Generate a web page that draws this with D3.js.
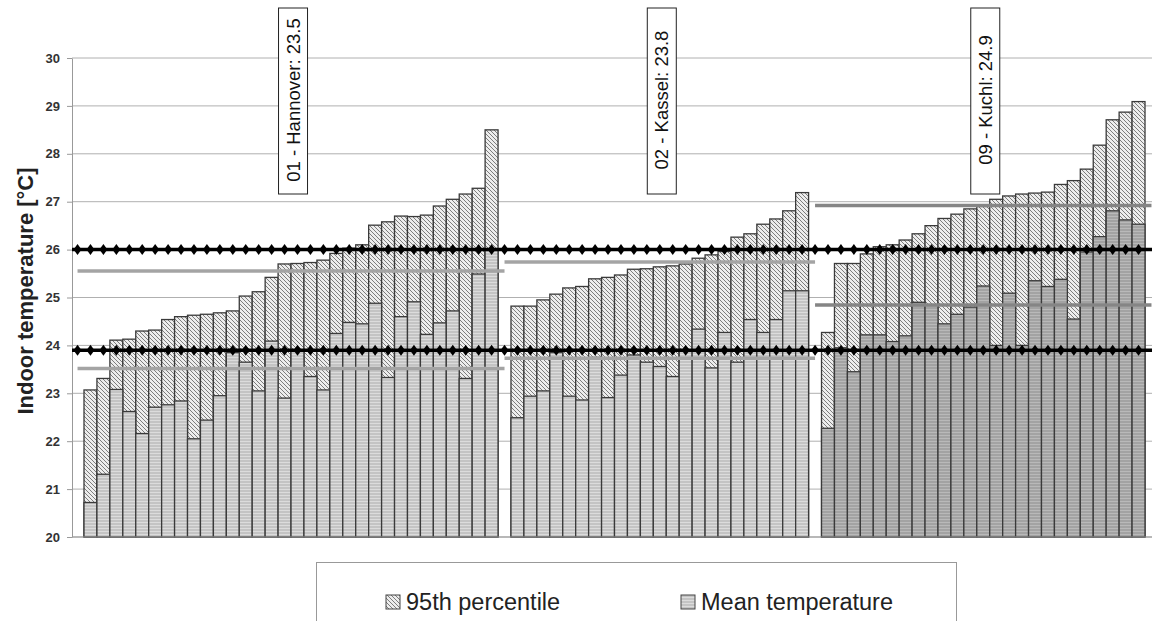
<!DOCTYPE html>
<html>
<head>
<meta charset="utf-8">
<script src="https://cdn.jsdelivr.net/npm/d3@7"></script>
<style>
body { margin: 0; background: #fff; }
svg { display: block; font-family: Arial, "Liberation Sans", sans-serif; }
</style>
</head>
<body>
<div id="chart"></div>
<script>
// Values (one bar per room, sorted by 95th percentile)
let groupLabels = ["01 - Hannover: 23.5", "02 - Kassel: 23.8", "09 - Kuchl: 24.9"];

let hannoverP95 = [23.07, 23.31, 24.11, 24.13, 24.30, 24.32, 24.54, 24.60, 24.63, 24.65, 24.68, 24.72, 25.03, 25.12, 25.42, 25.70,
    25.71, 25.73, 25.78, 25.92, 26.03, 26.10, 26.51, 26.58, 26.70, 26.69, 26.72, 26.91, 27.05, 27.16, 27.28, 28.50];
let hannoverMean = [20.72, 21.31, 23.08, 22.62, 22.16, 22.71, 22.76, 22.84, 22.05, 22.44, 22.95, 23.85, 23.65, 23.05, 24.09, 22.90,
    23.90, 23.35, 23.07, 24.25, 24.48, 24.45, 24.88, 23.33, 24.60, 24.91, 24.23, 24.47, 24.72, 23.31, 25.49, 26.00];

let kasselP95 = [24.82, 24.82, 24.95, 25.07, 25.20, 25.23, 25.39, 25.42, 25.47, 25.59, 25.60, 25.64, 25.66, 25.70, 25.82, 25.89,
    25.96, 26.26, 26.33, 26.53, 26.64, 26.81, 27.19];
let kasselMean = [22.49, 22.94, 23.05, 23.85, 22.94, 22.86, 23.75, 22.91, 23.38, 23.80, 23.65, 23.56, 23.35, 23.90, 24.34, 23.53,
    24.27, 23.65, 24.54, 24.27, 24.54, 25.14, 25.14];

let kuchlP95 = [24.27, 25.71, 25.71, 25.91, 26.06, 26.10, 26.20, 26.33, 26.50, 26.65, 26.74, 26.85, 26.90, 27.05, 27.12, 27.16,
    27.18, 27.20, 27.36, 27.44, 27.68, 28.18, 28.71, 28.87, 29.09];
let kuchlMean = [22.27, 23.95, 23.45, 24.22, 24.22, 24.08, 24.20, 24.90, 24.85, 24.45, 24.65, 24.80, 25.24, 24.00, 25.09, 24.00,
    25.35, 25.23, 25.38, 24.55, 25.95, 26.27, 26.81, 26.62, 26.53];

// comfort limits drawn as diamond lines
let limits = [26, 23.9];
let yTicks = [20, 21, 22, 23, 24, 25, 26, 27, 28, 29, 30];
let legendLabels = ["95th percentile", "Mean temperature"];

let svgWidth = 1154;
let svgHeight = 621;
let margin = { top: 58, left: 72, right: 2, bottom: 84 };
let plotRight = svgWidth - margin.right;
let plotBottom = svgHeight - margin.bottom;

let svg = d3.select('#chart')
    .append('svg')
    .attr('width', svgWidth)
    .attr('height', svgHeight);

let defs = svg.append('defs');

// diagonal hatch for the 95th percentile
let hatch = defs.append('pattern')
    .attr('id', 'hatch')
    .attr('patternUnits', 'userSpaceOnUse')
    .attr('width', 4).attr('height', 4);
hatch.append('rect').attr('width', 4).attr('height', 4).attr('fill', '#ededed');
hatch.append('path')
    .attr('d', 'M0,0 L4,4 M-1,3 L1,5 M3,-1 L5,1')
    .attr('stroke', '#7d7d7d')
    .attr('stroke-width', 1);

// horizontal stripes for mean temperature
function stripes(id, base, line) {
    let p = defs.append('pattern')
        .attr('id', id)
        .attr('patternUnits', 'userSpaceOnUse')
        .attr('width', 4).attr('height', 3);
    p.append('rect').attr('width', 4).attr('height', 3).attr('fill', base);
    p.append('rect').attr('width', 4).attr('height', 1).attr('fill', line);
}
stripes('stripes', '#c4c4c4', '#dcdcdc');
stripes('stripesDark', '#a3a3a3', '#b9b9b9');

// build slots: bars of each group with one empty slot between groups
let groups = [
    { label: groupLabels[0], p95: hannoverP95, mean: hannoverMean, fill: 'url(#stripes)', lineColor: '#a4a4a4' },
    { label: groupLabels[1], p95: kasselP95, mean: kasselMean, fill: 'url(#stripes)', lineColor: '#a4a4a4' },
    { label: groupLabels[2], p95: kuchlP95, mean: kuchlMean, fill: 'url(#stripesDark)', lineColor: '#858585' }
];

let slots = [];
let bars = [];
groups.forEach(function(g, gi) {
    g.keys = [];
    g.p95.forEach(function(v, i) {
        let key = gi + '-' + i;
        slots.push(key);
        g.keys.push(key);
        bars.push({ key: key, p95: v, mean: g.mean[i], fill: g.fill });
    });
    if (gi < groups.length - 1) slots.push('gap' + gi);
});

let x = d3.scaleBand()
    .domain(slots)
    .range([84, 1145])
    .padding(0);

let y = d3.scaleLinear()
    .domain([20, 30])
    .range([plotBottom, margin.top]);

// grid lines
svg.append('g')
    .selectAll('line')
    .data(yTicks)
    .enter()
    .append('line')
    .attr('x1', margin.left)
    .attr('x2', plotRight)
    .attr('y1', d => y(d))
    .attr('y2', d => y(d))
    .attr('stroke', '#b0b0b0')
    .attr('stroke-width', 1);

// y axis
let yAxis = svg.append('g')
    .attr('transform', `translate(${margin.left},0)`)
    .call(d3.axisLeft(y).tickValues(yTicks).tickSize(5).tickPadding(7).tickSizeOuter(0));
yAxis.select('.domain').attr('stroke', '#999');
yAxis.selectAll('.tick line').attr('stroke', '#999');
yAxis.selectAll('.tick text')
    .attr('font-size', 13)
    .attr('font-weight', 'bold')
    .attr('font-family', 'Arial, "Liberation Sans", sans-serif')
    .attr('fill', '#333');

svg.append('text')
    .attr('transform', `translate(33, 291) rotate(-90)`)
    .attr('text-anchor', 'middle')
    .attr('font-size', 22)
    .attr('font-weight', 'bold')
    .attr('fill', '#222')
    .text('Indoor temperature [°C]');

// 95th percentile bars
let barGroup = svg.append('g');
barGroup.selectAll('rect.p95')
    .data(bars)
    .enter()
    .append('rect')
    .attr('class', 'p95')
    .attr('x', d => x(d.key))
    .attr('width', x.bandwidth())
    .attr('y', d => y(d.p95))
    .attr('height', d => y(20) - y(d.p95))
    .attr('fill', 'url(#hatch)')
    .attr('stroke', '#3a3a3a')
    .attr('stroke-width', 1.3);

// mean bars on top
barGroup.selectAll('rect.mean')
    .data(bars)
    .enter()
    .append('rect')
    .attr('class', 'mean')
    .attr('x', d => x(d.key))
    .attr('width', x.bandwidth())
    .attr('y', d => y(d.mean))
    .attr('height', d => y(20) - y(d.mean))
    .attr('fill', d => d.fill)
    .attr('stroke', '#3a3a3a')
    .attr('stroke-width', 1.3);

// x baseline
svg.append('line')
    .attr('x1', margin.left).attr('x2', plotRight)
    .attr('y1', y(20)).attr('y2', y(20))
    .attr('stroke', '#999');

// group averages as gray lines
groups.forEach(function(g) {
    let x0 = x(g.keys[0]) - x.step() / 2;
    let x1 = x(g.keys[g.keys.length - 1]) + x.bandwidth() + x.step() / 2;
    [d3.mean(g.mean), d3.mean(g.p95)].forEach(function(v) {
        svg.append('line')
            .attr('x1', x0).attr('x2', Math.min(x1, plotRight))
            .attr('y1', y(v)).attr('y2', y(v))
            .attr('stroke', g.lineColor)
            .attr('stroke-width', 3.5);
    });
});

// comfort limit lines with diamonds (one extra point left of the first bar)
let diamond = 'M0,-5.5 L4,0 L0,5.5 L-4,0 Z';
let diamondX = [x(slots[0]) - x.step() / 2].concat(slots.map(d => x(d) + x.bandwidth() / 2));
limits.forEach(function(v) {
    let lim = svg.append('g');
    lim.append('line')
        .attr('x1', margin.left).attr('x2', plotRight)
        .attr('y1', y(v)).attr('y2', y(v))
        .attr('stroke', '#000')
        .attr('stroke-width', 3.5);
    lim.selectAll('path')
        .data(diamondX)
        .enter()
        .append('path')
        .attr('d', diamond)
        .attr('transform', d => `translate(${d},${y(v)})`)
        .attr('fill', '#000');
});

// group labels in boxes
groups.forEach(function(g) {
    let cx = (x(g.keys[0]) + x(g.keys[g.keys.length - 1]) + x.bandwidth()) / 2 + 2;
    let lab = svg.append('g');
    lab.append('rect')
        .attr('x', cx - 14.5)
        .attr('y', 8)
        .attr('width', 29)
        .attr('height', 186)
        .attr('fill', '#fff')
        .attr('stroke', '#222')
        .attr('stroke-width', 1);
    lab.append('text')
        .attr('transform', `translate(${cx + 6.5}, 100) rotate(-90)`)
        .attr('text-anchor', 'middle')
        .attr('font-size', 18.5)
        .attr('fill', '#111')
        .text(g.label);
});

// legend
let legend = svg.append('g');
legend.append('rect')
    .attr('x', 316.5).attr('y', 562.5)
    .attr('width', 640).attr('height', 80)
    .attr('fill', '#fff')
    .attr('stroke', '#999');

let legendItems = [
    { label: legendLabels[0], fill: 'url(#hatch)', x: 386 },
    { label: legendLabels[1], fill: 'url(#stripes)', x: 681 }
];
legendItems.forEach(function(it) {
    legend.append('rect')
        .attr('x', it.x).attr('y', 595)
        .attr('width', 14).attr('height', 14)
        .attr('fill', it.fill)
        .attr('stroke', '#444');
    legend.append('text')
        .attr('x', it.x + 20)
        .attr('y', 610)
        .attr('font-size', 23.5)
        .attr('fill', '#222')
        .text(it.label);
});
</script>
</body>
</html>
